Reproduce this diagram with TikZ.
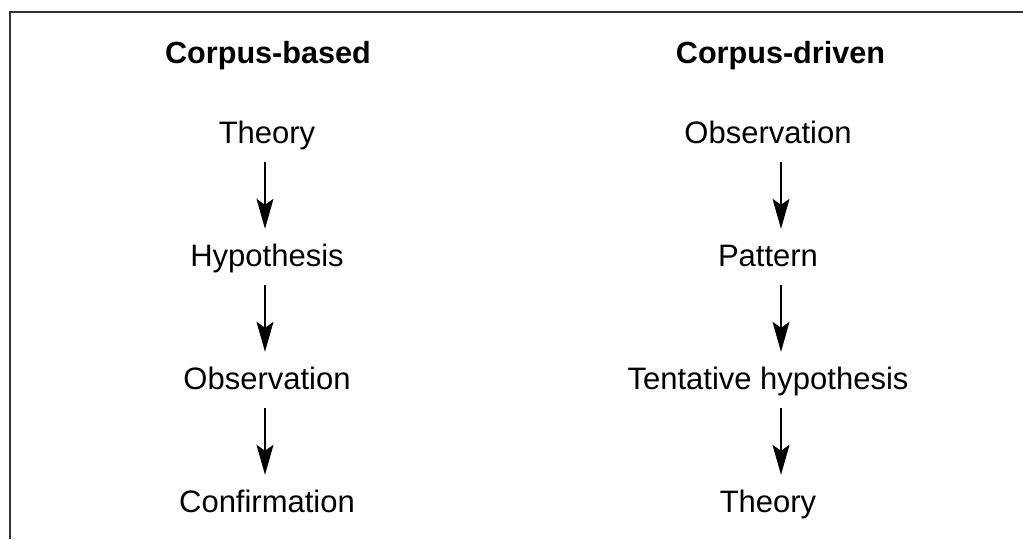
\documentclass[tikz,border=0pt]{standalone}
\usepackage{fontspec}
\setmainfont{Liberation Sans}
\usetikzlibrary{arrows.meta}
\begin{document}
\begin{tikzpicture}[x=1pt,y=-1pt,
  label/.style={inner sep=0pt,text height=22pt,text depth=7pt,anchor=base,
    font=\fontsize{31}{37}\selectfont},
  heading/.style={label,font=\fontsize{30.6}{37}\selectfont\bfseries},
  flow/.style={line width=1.3pt,shorten <=11.7pt,shorten >=15.3pt,
    -{Stealth[length=30pt,width=17pt,inset=6pt]}}]
  \useasboundingbox (0,0) rectangle (1023,539);
  % open frame: left and top edges only
  \draw[line width=2pt,black!80] (10,539) -- (10,12) -- (1023,12);

  % corpus-based column
  \node[heading] (hb) at (268,63.5) {Corpus-based};
  \node[label] (b1) at (267,143.3) {Theory};
  \node[label] (b2) at (267,266.3) {Hypothesis};
  \node[label] (b3) at (267,389.3) {Observation};
  \node[label] (b4) at (267,512.3) {Confirmation};

  % corpus-driven column
  \node[heading] (hd) at (780.5,63.5) {Corpus-driven};
  \node[label] (d1) at (768,143.3) {Observation};
  \node[label] (d2) at (768,266.3) {Pattern};
  \node[label] (d3) at (768,389.3) {Tentative hypothesis};
  \node[label] (d4) at (768,512.3) {Theory};

  \foreach \a/\b in {b1/b2,b2/b3,b3/b4}
    \draw[flow] ([xshift=-2pt]\a.south) -- ([xshift=-2pt]\b.north);
  \foreach \a/\b in {d1/d2,d2/d3,d3/d4}
    \draw[flow] ([xshift=13pt]\a.south) -- ([xshift=13pt]\b.north);
\end{tikzpicture}
\end{document}
